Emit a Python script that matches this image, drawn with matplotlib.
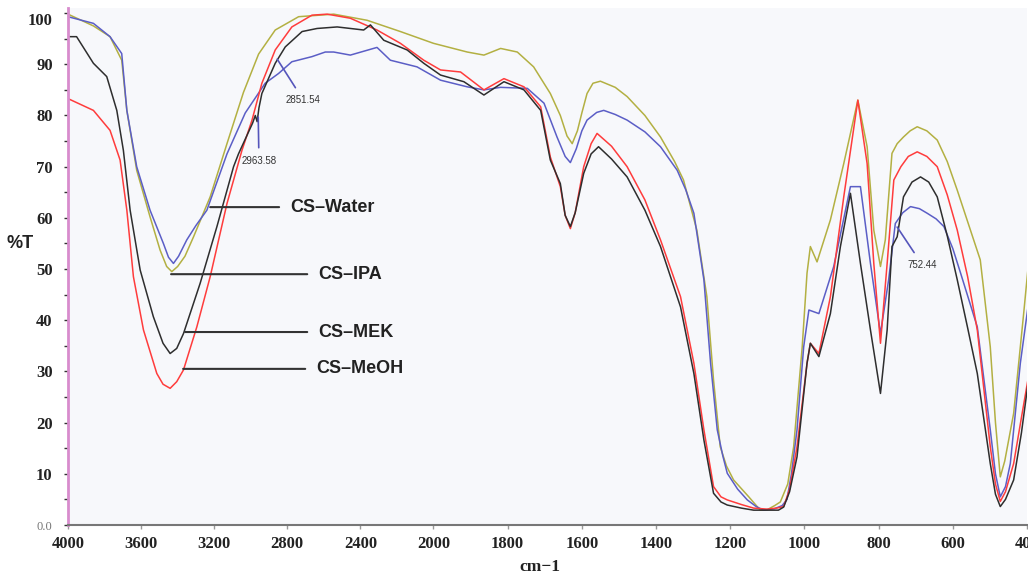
import matplotlib
matplotlib.use("Agg")
import matplotlib.pyplot as plt
import numpy as np

# FTIR spectra, wavenumber (cm-1) and %T
water_wn = [4000, 3861, 3770, 3706, 3678, 3624, 3551, 3478, 3450, 3423, 3395, 3350, 3300, 3240,
            3190, 3130, 3030, 2921, 2848, 2775, 2665, 2592, 2546, 2455, 2309, 2236, 2090, 1981,
            1909, 1864, 1819, 1747, 1702, 1667, 1645, 1631, 1615, 1600, 1586, 1560, 1541, 1510,
            1478, 1430, 1388, 1343, 1320, 1298, 1271, 1253, 1235, 1220, 1208, 1180, 1154, 1130,
            1110, 1080, 1060, 1047, 1035, 1020, 1002, 988, 961, 921, 876, 849, 822, 795, 773,
            755, 735, 714, 690, 669, 645, 624, 600, 579, 534, 499, 485, 472, 458, 445, 418, 396]
water_t = [99.3, 98.0, 95.4, 92.1, 81.0, 70.0, 61.5, 55.0, 52.3, 51.1, 52.5, 55.7, 58.5, 61.5,
           66.5, 72.5, 80.5, 86.3, 88.2, 90.5, 91.5, 92.4, 92.4, 91.8, 93.3, 90.8, 89.5, 86.9,
           85.6, 85.0, 85.5, 85.3, 82.4, 75.8, 72.0, 70.8, 73.5, 77.0, 79.1, 80.6, 81.0, 80.2,
           79.1, 76.8, 73.9, 69.3, 65.5, 60.9, 47.9, 31.6, 18.6, 13.5, 10.1, 7.0, 4.9, 3.6,
           2.9, 3.2, 3.8, 5.0, 10.0, 18.6, 34.8, 42.0, 41.3, 50.5, 66.1, 66.1, 51.1, 37.4, 47.9,
           58.9, 61.0, 62.2, 61.8, 60.9, 59.8, 58.3, 54.0, 49.2, 38.7, 18.6, 10.0, 5.5, 7.5, 12.0, 31.6, 43.3]

ipa_wn = [4000, 3861, 3770, 3706, 3678, 3624, 3551, 3496, 3460, 3432, 3400, 3360, 3313, 3222,
          3130, 3040, 2957, 2866, 2738, 2546, 2363, 2181, 2000, 1909, 1864, 1819, 1774, 1730,
          1685, 1658, 1640, 1626, 1612, 1600, 1586, 1570, 1550, 1510, 1478, 1430, 1388, 1350,
          1326, 1290, 1263, 1245, 1227, 1210, 1191, 1150, 1119, 1100, 1080, 1065, 1045, 1029,
          1006, 993, 984, 966, 930, 894, 856, 831, 813, 795, 782, 764, 750, 733, 715, 696, 670,
          642, 615, 588, 526, 499, 485, 472, 460, 436, 409, 396]
ipa_t = [99.8, 97.5, 95.4, 90.8, 81.0, 69.3, 60.2, 53.7, 50.5, 49.5, 50.5, 52.5, 56.3, 64.1,
         74.5, 84.5, 92.0, 96.7, 99.3, 99.8, 98.6, 96.4, 94.1, 92.4, 91.8, 93.1, 92.4, 89.5,
         84.3, 80.0, 76.0, 74.5, 77.0, 80.5, 84.3, 86.3, 86.7, 85.5, 83.7, 80.0, 75.8, 71.0,
         67.4, 57.6, 44.6, 28.3, 15.3, 11.5, 8.8, 5.5, 2.9, 3.0, 3.8, 4.5, 8.0, 15.3,
         34.8, 49.2, 54.4, 51.4, 59.6, 70.6, 83.0, 73.9, 57.6, 50.5, 55.7, 72.6, 74.5, 75.8, 77.0, 77.8, 77.0,
         75.2, 71.0, 65.4, 51.8, 34.8, 20.0, 9.4, 12.5, 21.8, 41.3, 51.1]

mek_wn = [4000, 3953, 3861, 3788, 3733, 3697, 3660, 3605, 3533, 3480, 3441, 3405, 3368, 3277,
          3185, 3094, 3067, 2990, 2975, 2965, 2955, 2939, 2866, 2811, 2719, 2637, 2527, 2382,
          2345, 2272, 2144, 2053, 1981, 1918, 1864, 1810, 1756, 1711, 1685, 1658, 1645, 1631,
          1618, 1595, 1575, 1555, 1520, 1478, 1430, 1388, 1334, 1298, 1271, 1245, 1225, 1208,
          1170, 1137, 1100, 1070, 1056, 1040, 1020, 993, 984, 961, 930, 903, 876, 849, 822,
          795, 777, 764, 750, 733, 710, 687, 665, 642, 615, 588, 560, 534, 499, 485, 472, 458,
          436, 415, 396]
mek_t = [95.4, 95.4, 90.2, 87.6, 81.0, 73.2, 61.5, 49.8, 40.7, 35.5, 33.5, 34.5, 37.4, 47.2,
         58.3, 70.0, 72.5, 78.5, 80.0, 78.8, 81.5, 84.3, 90.2, 93.4, 96.4, 97.0, 97.3, 96.7,
         97.7, 94.7, 92.8, 90.2, 87.9, 86.6, 84.0, 86.6, 85.0, 81.0, 71.3, 66.7, 60.5, 58.3,
         61.0, 68.7, 72.5, 73.9, 71.5, 68.0, 61.5, 54.4, 42.6, 29.6, 16.6, 6.2, 4.5, 3.9,
         3.3, 2.9, 2.9, 2.9, 3.5, 6.5, 13.3, 31.6, 35.5, 32.9, 41.3, 54.4, 64.8, 51.1, 38.1,
         25.7, 38.1, 54.4, 56.3, 64.1, 67.0, 68.0, 67.0, 64.1, 56.5, 47.9, 38.5, 29.6, 12.0, 6.0, 3.6, 5.0,
         8.8, 18.0, 28.3]

meoh_wn = [4000, 3861, 3770, 3715, 3678, 3642, 3587, 3514, 3480, 3441, 3405, 3368, 3295, 3222,
           3130, 3048, 2993, 2939, 2866, 2775, 2665, 2582, 2455, 2309, 2181, 2053, 1981, 1927,
           1864, 1810, 1756, 1711, 1685, 1658, 1645, 1631, 1618, 1595, 1575, 1559, 1520, 1478,
           1430, 1388, 1334, 1298, 1271, 1245, 1225, 1208, 1170, 1137, 1100, 1075, 1056, 1040,
           1020, 993, 984, 961, 930, 894, 856, 831, 813, 795, 777, 759, 740, 720, 696, 670, 642,
           615, 588, 560, 534, 499, 485, 472, 458, 436, 415, 396]
meoh_t = [83.3, 81.0, 77.1, 71.3, 61.5, 48.5, 38.1, 29.6, 27.5, 26.7, 28.0, 30.3, 38.7, 48.5,
          62.8, 73.2, 79.1, 86.3, 92.8, 97.3, 99.6, 99.8, 99.0, 96.7, 94.1, 90.8, 88.9, 88.5,
          85.0, 87.2, 85.6, 81.7, 71.9, 66.1, 60.5, 57.9, 61.0, 70.0, 74.5, 76.5, 74.0, 70.0,
          63.5, 55.7, 44.6, 31.6, 18.6, 7.5, 5.5, 4.9, 4.0, 3.3, 3.1, 3.3, 3.6, 7.0,
          15.3, 31.6, 35.5, 33.5, 44.6, 64.1, 83.0, 70.6, 51.1, 35.5, 51.1, 67.4, 70.0, 72.0, 72.9, 72.0, 70.0,
          64.5, 57.6, 48.5, 38.1, 15.3, 8.0, 4.6, 6.5, 12.0, 21.0, 29.0]

x_ticks = [4000, 3600, 3200, 2800, 2400, 2000, 1800, 1600, 1400, 1200, 1000, 800, 600, 400]
y_ticks = [0, 10, 20, 30, 40, 50, 60, 70, 80, 90, 100]
y_labels = ["0.0", "10", "20", "30", "40", "50", "60", "70", "80", "90", "100"]

# split x scale: above 2000 cm-1 is compressed
K = 2.03
def fwd(w):
    w = np.asarray(w, dtype=float)
    return np.where(w > 2000, 2000 + (w - 2000) / K, w)

def inv(p):
    p = np.asarray(p, dtype=float)
    return np.where(p > 2000, 2000 + (p - 2000) * K, p)

fig = plt.figure(figsize=(10.28, 5.75), dpi=100)
ax = fig.add_axes([68 / 1028, 1 - 525 / 575, 959 / 1028, 517 / 575])
ax.set_facecolor("#f7f8fb")
ax.set_xscale("function", functions=(fwd, inv))

ax.plot(ipa_wn, ipa_t, color="#b3b042", lw=1.1)
ax.plot(water_wn, water_t, color="#5b5ec6", lw=1.1)
ax.plot(meoh_wn, meoh_t, color="#ff3c3c", lw=1.1)
ax.plot(mek_wn, mek_t, color="#2e2e2e", lw=1.1)

ax.set_xlim(4000, 400)
ax.set_ylim(0, 101)

ax.set_xticks(x_ticks)
ax.set_xticklabels([str(v) for v in x_ticks], fontfamily="Liberation Serif",
                   fontweight="bold", fontsize=12, color="#222222")
ax.set_yticks(y_ticks)
ax.set_yticklabels(y_labels, fontfamily="Liberation Serif", fontweight="bold",
                   fontsize=12, color="#222222")
ax.set_yticks(np.arange(5, 100, 10), minor=True)
ax.tick_params(axis="y", which="both", length=3, width=1, color="#333333", pad=8)
ax.tick_params(axis="x", length=3, width=1, color="#999999", pad=5)
lbls = ax.get_yticklabels()
lbls[0].set_fontweight("normal")
lbls[0].set_fontsize(9)
lbls[0].set_color("#777777")
lbls[-1].set_verticalalignment("top")

for s in ["top", "right"]:
    ax.spines[s].set_visible(False)
ax.spines["left"].set_color("#d88ccd")
ax.spines["left"].set_linewidth(2)
ax.spines["bottom"].set_color("#777777")
ax.spines["bottom"].set_linewidth(1.5)

# series labels with leader lines
lead = dict(arrowstyle="-", color="#333333", lw=1.5, shrinkA=6, shrinkB=0)
lab_kw = dict(fontfamily="Liberation Sans", fontweight="bold", fontsize=13,
              color="#222222", va="center", ha="left")
ax.annotate("CS\u2013Water", xy=(3222, 62.1), xytext=(2784, 62.1), arrowprops=lead, **lab_kw)
ax.annotate("CS\u2013IPA", xy=(3436, 49.0), xytext=(2630, 49.0), arrowprops=lead, **lab_kw)
ax.annotate("CS\u2013MEK", xy=(3359, 37.7), xytext=(2630, 37.7), arrowprops=lead, **lab_kw)
ax.annotate("CS\u2013MeOH", xy=(3370, 30.5), xytext=(2641, 30.5), arrowprops=lead, **lab_kw)

# peak picks
pk = dict(arrowstyle="-", color="#5555bb", lw=1.2, shrinkA=4, shrinkB=0)
pk_kw = dict(fontfamily="Liberation Sans", fontsize=7, color="#333333", ha="center", va="center")
ax.annotate("2851.54", xy=(2855, 91.0), xytext=(2712, 83.0), arrowprops=pk, **pk_kw)
ax.annotate("2963.58", xy=(2959, 79.7), xytext=(2955, 71.1), arrowprops=pk, **pk_kw)
ax.annotate("752.44", xy=(750, 58.2), xytext=(682, 50.8), arrowprops=pk, **pk_kw)

fig.text(20 / 1028, 1 - 243 / 575, "%T", fontfamily="Liberation Sans", fontweight="bold",
         fontsize=13, color="#222222", ha="center", va="center")
fig.text(540 / 1028, 1 - 567 / 575, "cm\u22121", fontfamily="Liberation Serif", fontweight="bold",
         fontsize=12.5, color="#222222", ha="center", va="center")

fig.savefig("out.png", dpi=100)
